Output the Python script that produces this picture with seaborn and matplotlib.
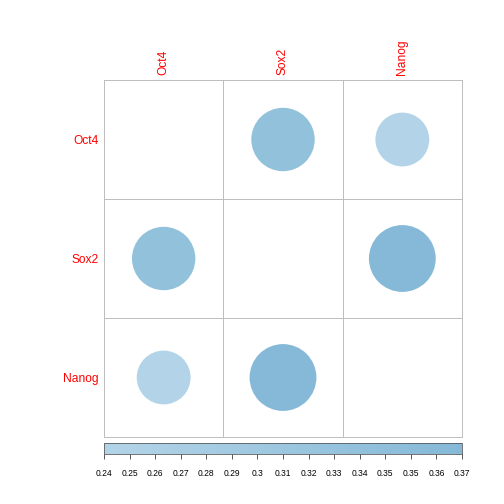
import matplotlib
matplotlib.use("Agg")
import matplotlib.pyplot as plt
from matplotlib.colors import LinearSegmentedColormap, Normalize
import matplotlib.colorbar as mcolorbar
import seaborn as sns
import pandas as pd
import numpy as np

genes = ["Oct4", "Sox2", "Nanog"]
# upper/lower pairs of the matrix (diagonal left empty)
row_gene = ["Oct4", "Oct4", "Sox2", "Sox2", "Nanog", "Nanog"]
col_gene = ["Sox2", "Nanog", "Oct4", "Nanog", "Oct4", "Sox2"]
values = [0.333, 0.24, 0.333, 0.37, 0.24, 0.37]

cbar_ticks = np.linspace(0.24, 0.37, 15)
cbar_labels = ["0.24", "0.25", "0.26", "0.27", "0.28", "0.29", "0.3", "0.31",
               "0.32", "0.33", "0.34", "0.35", "0.35", "0.36", "0.37"]

plt.rcParams["font.family"] = ["Liberation Sans", "DejaVu Sans"]

df = pd.DataFrame({"row": row_gene, "col": col_gene, "value": values})
df["x"] = df["col"].map({g: i for i, g in enumerate(genes)})
df["y"] = df["row"].map({g: i for i, g in enumerate(genes)})

cmap = LinearSegmentedColormap.from_list("blues", ["#b3d4e8", "#85b9d7"])
vmin, vmax = 0.24, 0.37

fig = plt.figure(figsize=(7, 7), dpi=72)
ax = fig.add_axes([104 / 504, 67 / 504, 358 / 504, 357 / 504])

# marker area proportional to value (cell ~119px, max circle ~67px wide)
k = (119.3 * 0.921) ** 2
sns.scatterplot(data=df, x="x", y="y", hue="value", palette=cmap,
                hue_norm=(vmin, vmax), size="value", sizes=(0, vmax * k),
                size_norm=(0, vmax), linewidth=0, legend=False, ax=ax)

ax.set_xlim(-0.5, 2.5)
ax.set_ylim(2.5, -0.5)
for p in [0.5, 1.5]:
    ax.axvline(p, color="#bebebe", lw=1)
    ax.axhline(p, color="#bebebe", lw=1)
for s in ax.spines.values():
    s.set_color("#bebebe")
    s.set_linewidth(1)

ax.set_xticks(range(3))
ax.set_yticks(range(3))
ax.set_xticklabels(genes, rotation=90, color="red", fontsize=12)
ax.set_yticklabels(genes, color="red", fontsize=12)
ax.xaxis.tick_top()
ax.tick_params(length=0, pad=5)
ax.set_xlabel("")
ax.set_ylabel("")

cax = fig.add_axes([104 / 504, 50.5 / 504, 358 / 504, 10.5 / 504])
cb = mcolorbar.ColorbarBase(cax, cmap=cmap, norm=Normalize(vmin, vmax),
                            orientation="horizontal")
cb.set_ticks(cbar_ticks)
cb.set_ticklabels(cbar_labels)
cb.outline.set_edgecolor("#555555")
cb.outline.set_linewidth(0.8)
cax.tick_params(labelsize=8.5, length=5, width=0.8, color="#333333", pad=10)

fig.savefig("out.png", dpi=72, facecolor="white")
